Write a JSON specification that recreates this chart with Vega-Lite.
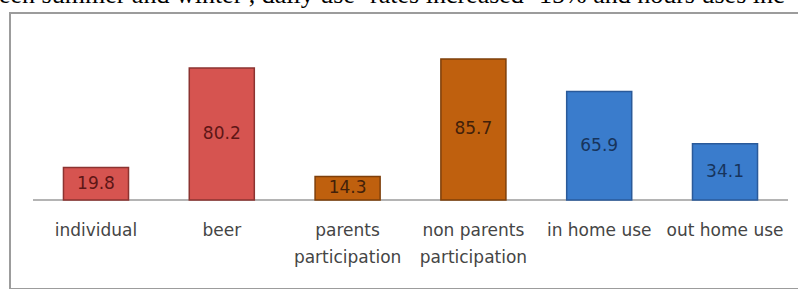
{
  "$schema": "https://vega.github.io/schema/vega-lite/v6.json",
  "width": 801,
  "height": 276,
  "autosize": "none",
  "padding": {"left": 10, "top": 13, "right": 0, "bottom": 0},
  "background": "white",
  "title": {
    "text": "een summer and winter , daily use \u2018rates increased \u201815% and hours uses inc",
    "anchor": "start",
    "frame": "group",
    "orient": "top",
    "font": "Liberation Serif",
    "fontSize": 26,
    "fontWeight": "normal",
    "color": "#000000",
    "baseline": "alphabetic",
    "offset": 5,
    "dx": -11,
    "dy": 21
  },
  "config": {
    "view": {"stroke": "#9c9c9c", "strokeWidth": 2}
  },
  "data": {
    "values": [
      {"cat": "individual", "v": 19.8, "g": "red"},
      {"cat": "beer", "v": 80.2, "g": "red"},
      {"cat": "parents participation", "v": 14.3, "g": "orange"},
      {"cat": "non parents participation", "v": 85.7, "g": "orange"},
      {"cat": "in home use", "v": 65.9, "g": "blue"},
      {"cat": "out home use", "v": 34.1, "g": "blue"}
    ]
  },
  "encoding": {
    "x": {
      "field": "cat",
      "type": "nominal",
      "sort": null,
      "scale": {"domain": ["individual", "beer", "parents participation", "non parents participation", "in home use", "out home use"], "paddingInner": 0.483, "paddingOuter": 0.425},
      "axis": {
        "orient": "bottom",
        "offset": -89,
        "title": null,
        "domain": false,
        "ticks": false,
        "labelAngle": 0,
        "labelFont": "DejaVu Sans",
        "labelFontSize": 17,
        "labelColor": "#454545",
        "labelPadding": 22,
        "labelBaseline": "top",
        "labelLineHeight": 27,
        "labelOverlap": false,
        "labelLimit": 0,
        "labelExpr": "indexof(datum.label, ' participation') > 0 ? [replace(datum.label, ' participation', ''), 'participation'] : datum.label"
      }
    }
  },
  "layer": [
    {
      "mark": {"type": "rule", "color": "#b4b4b4", "strokeWidth": 1.5},
      "encoding": {
        "x": {"datum": "individual", "type": "nominal", "bandPosition": -0.469},
        "x2": {"datum": "out home use", "bandPosition": 1.469},
        "y": {"datum": 0, "type": "quantitative", "scale": {"domain": [-54.07, 113.6], "nice": false, "zero": false}, "axis": null}
      }
    },
    {
      "mark": {"type": "bar", "strokeWidth": 1.5},
      "encoding": {
        "y": {"field": "v", "type": "quantitative", "scale": {"domain": [-54.07, 113.6], "nice": false, "zero": false}, "axis": null},
        "color": {"field": "g", "type": "nominal", "scale": {"domain": ["red", "orange", "blue"], "range": ["#D65450", "#BF600E", "#3A7CCC"]}, "legend": null},
        "stroke": {"field": "g", "type": "nominal", "scale": {"domain": ["red", "orange", "blue"], "range": ["#8C3330", "#7E3F0A", "#2A5A9A"]}, "legend": null}
      }
    },
    {
      "mark": {"type": "text", "font": "DejaVu Sans", "fontSize": 17, "baseline": "middle", "align": "center"},
      "encoding": {
        "y": {"field": "v", "type": "quantitative", "scale": {"domain": [-108.14, 227.2], "nice": false, "zero": false}, "axis": null},
        "text": {"field": "v", "type": "quantitative", "format": ".1f"},
        "fill": {"field": "g", "type": "nominal", "scale": {"domain": ["red", "orange", "blue"], "range": ["#5E1616", "#42200A", "#17345C"]}, "legend": null}
      }
    }
  ],
  "resolve": {"scale": {"y": "independent"}}
}
